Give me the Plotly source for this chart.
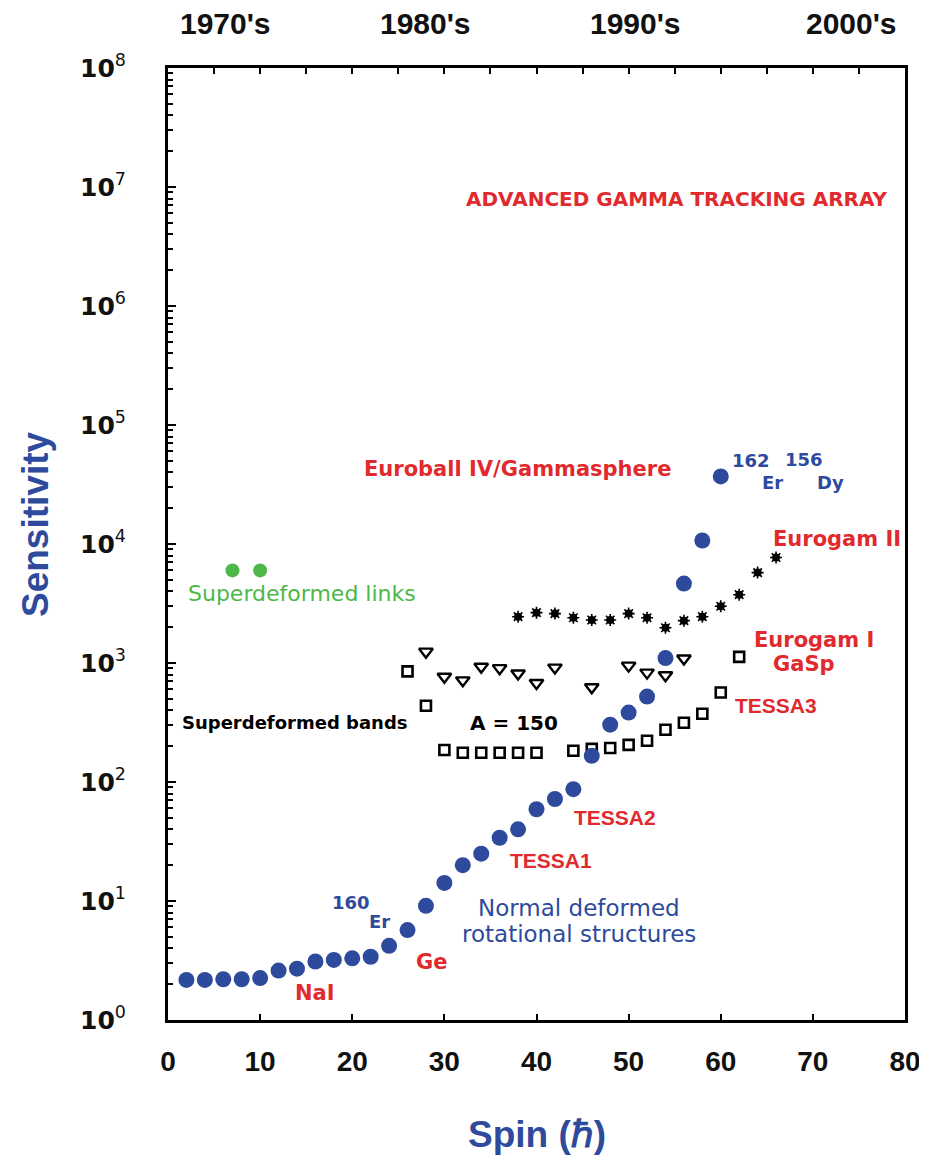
import plotly.graph_objects as go

# ---------------- data ----------------
nd_spin = [2, 4, 6, 8, 10, 12, 14, 16, 18, 20, 22, 24, 26, 28, 30, 32, 34, 36, 38, 40, 42, 44,
           46, 48, 50, 52, 54, 56, 58, 60]
nd_sens = [2.17, 2.17, 2.2, 2.2, 2.25, 2.6, 2.7, 3.1, 3.2, 3.3, 3.4, 4.2, 5.7, 9.1, 14.2, 20, 25, 34, 40, 59, 72, 87,
           166, 303, 383, 522, 1100, 4650, 10700, 37000]

sdl_spin = [7, 10]
sdl_sens = [6000, 6000]

eg2_spin = [38, 40, 42, 44, 46, 48, 50, 52, 54, 56, 58, 60, 62, 64, 66]
eg2_sens = [2450, 2650, 2600, 2400, 2300, 2300, 2600, 2400, 1980, 2270, 2450, 3000, 3750, 5750, 7700]

eg1_spin = [28, 30, 32, 34, 36, 38, 40, 42, 46, 50, 52, 54, 56]
eg1_sens = [1245, 767, 715, 930, 905, 815, 680, 915, 625, 950, 830, 790, 1090]

tessa3_spin = [26, 28, 30, 32, 34, 36, 38, 40, 44, 46, 48, 50, 52, 54, 56, 58, 60, 62]
tessa3_sens = [850, 437, 186, 176, 176, 176, 176, 176, 183, 190, 193, 205, 222, 275, 315, 375, 565, 1125]

decades = ["1970's", "1980's", "1990's", "2000's"]
ytick_vals = [10 ** k for k in range(0, 9)]
ytick_text = ["<b>10</b><sup>%d</sup>" % k for k in range(0, 9)]
xtick_vals = list(range(0, 81, 10))
xtick_text = ["<b>%d</b>" % v for v in xtick_vals]

# ---------------- style ----------------
RED = "#e02a2e"
BLUE = "#2e4a9c"
GREEN = "#4db848"
WIDE = "DejaVu Sans"
NARROW = "Liberation Sans"

# page-pixel frame of the plot area (page has an 8px body margin)
PL, PR, PT, PB = 168, 905, 68, 1020
def px(x):
    return (x - PL) / (PR - PL)
def py(y):
    return (PB - y) / (PB - PT)

fig = go.Figure()

fig.add_trace(go.Scatter(x=tessa3_spin, y=tessa3_sens, mode="markers",
                         marker=dict(symbol="square-open", size=10, color="black", line=dict(width=2.6))))
fig.add_trace(go.Scatter(x=eg1_spin, y=eg1_sens, mode="markers",
                         marker=dict(symbol="triangle-down-open", size=12, color="black", line=dict(width=2.4))))
fig.add_trace(go.Scatter(x=eg2_spin, y=eg2_sens, mode="markers",
                         marker=dict(symbol="circle", size=8, color="black")))
fig.add_trace(go.Scatter(x=eg2_spin, y=eg2_sens, mode="markers",
                         marker=dict(symbol="asterisk-open", size=10, color="black", line=dict(width=1.6))))
fig.add_trace(go.Scatter(x=nd_spin, y=nd_sens, mode="markers",
                         marker=dict(symbol="circle", size=16, color=BLUE)))
fig.add_trace(go.Scatter(x=sdl_spin, y=sdl_sens, mode="markers",
                         marker=dict(symbol="circle", size=14, color=GREEN)))
# invisible trace to anchor top axis
fig.add_trace(go.Scatter(x=[0, 80], y=[1, 1], xaxis="x2", mode="markers",
                         marker=dict(opacity=0), hoverinfo="skip"))

minor_vals = [m * 10 ** k for k in range(0, 8) for m in range(2, 10)]

W, H = 927, 1160
fig.update_layout(
    width=W, height=H,
    margin=dict(l=PL - 8, r=W - (PR - 8), t=PT - 8, b=H - (PB - 8)),
    plot_bgcolor="white", paper_bgcolor="white",
    showlegend=False,
    xaxis=dict(range=[0, 80], tickvals=xtick_vals, ticktext=xtick_text, ticks="inside", ticklen=6, tickwidth=2,
               tickcolor="black", showline=True, linewidth=3, linecolor="black", mirror=True,
               showgrid=False, zeroline=False, automargin=False,
               tickfont=dict(family=NARROW, size=28, color="#111"), ticklabelstandoff=14),
    xaxis2=dict(range=[0, 80], overlaying="x", side="top", dtick=5, tick0=0, ticks="inside",
                ticklen=6, tickwidth=2, tickcolor="black", showticklabels=False,
                showgrid=False, zeroline=False, showline=False, automargin=False),
    yaxis=dict(type="log", range=[0, 8], tickvals=ytick_vals, ticktext=ytick_text,
               ticks="inside", ticklen=8, tickwidth=2, tickcolor="black",
               minor=dict(tickvals=minor_vals, ticks="inside", ticklen=5, tickwidth=1.5,
                          tickcolor="black", showgrid=False),
               showline=True, linewidth=3, linecolor="black", mirror=True,
               showgrid=False, zeroline=False, automargin=False,
               tickfont=dict(family=WIDE, size=25, color="#111"), ticklabelstandoff=34),
)

def ann(text, x, y, color, size=21, xanchor="left", family=WIDE, bold=True, xref="x", yref="y"):
    t = "<b>%s</b>" % text if bold else text
    fig.add_annotation(text=t, x=x, y=y, xref=xref, yref=yref, showarrow=False,
                       xanchor=xanchor, yanchor="middle",
                       font=dict(family=family, size=size, color=color))

ann("ADVANCED GAMMA TRACKING ARRAY", 55.2, 6.90, RED, size=20, xanchor="center")
ann("Euroball IV/Gammasphere", 37.9, 4.63, RED, size=21, xanchor="center")
ann("162", 61.0, 4.70, BLUE, size=18)
ann("Er", 64.3, 4.52, BLUE, size=18)
ann("156", 66.8, 4.71, BLUE, size=18)
ann("Dy", 70.2, 4.52, BLUE, size=18)
ann("Eurogam II", 65.4, 4.04, RED, size=21)
ann("Superdeformed links", 1.9, 3.58, GREEN, size=22, bold=False)
ann("Eurogam I", 63.4, 3.19, RED, size=21)
ann("GaSp", 65.4, 2.99, RED, size=21)
ann("TESSA3", 61.3, 2.64, RED, size=21, family=NARROW)
ann("Superdeformed bands", 1.3, 2.50, "black", size=18)
ann("A = 150", 32.6, 2.50, "black", size=20)
ann("TESSA2", 43.9, 1.70, RED, size=21, family=NARROW)
ann("TESSA1", 36.9, 1.34, RED, size=21, family=NARROW)
ann("160", 17.6, 0.99, BLUE, size=18)
ann("Er", 21.6, 0.83, BLUE, size=18)
ann("Normal deformed", 44.6, 0.94, BLUE, size=23, xanchor="center", bold=False)
ann("rotational structures", 44.6, 0.72, BLUE, size=23, xanchor="center", bold=False)
ann("Ge", 26.7, 0.49, RED, size=21)
ann("NaI", 13.6, 0.23, RED, size=21)

for lab, cx in zip(decades, [225, 425, 635, 851]):
    ann(lab, px(cx), py(24), "#111", size=30, xanchor="center", family=NARROW,
        xref="paper", yref="paper")

ann("Spin (ℏ)", px(537), py(1134), BLUE, size=37, xanchor="center", family=NARROW,
    xref="paper", yref="paper")
fig.add_annotation(text="<b>Sensitivity</b>", x=px(35), y=py(525),
                   xref="paper", yref="paper", xanchor="center", yanchor="middle",
                   showarrow=False, textangle=-90,
                   font=dict(family=NARROW, size=37, color=BLUE))

fig.write_html("out.html")
